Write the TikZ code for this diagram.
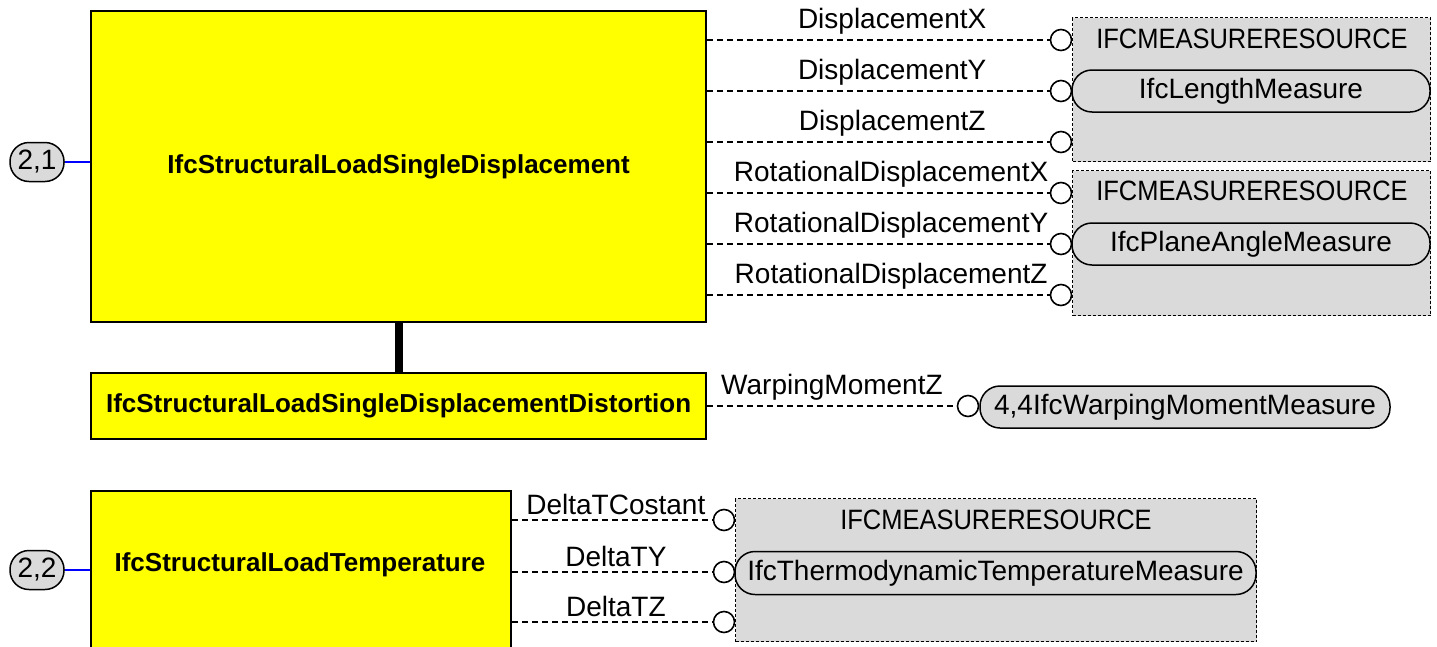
\documentclass[tikz,border=0pt]{standalone}
\usepackage{fontspec}
\setmainfont{Liberation Sans}
\newfontfamily\hdrfont[FakeStretch=0.91]{Liberation Sans}
\usetikzlibrary{positioning}
\definecolor{ybox}{RGB}{255,255,0}
\definecolor{gbox}{RGB}{218,218,218}
\begin{document}
\begin{tikzpicture}[x=1pt,y=-1pt,
  ybox/.style={draw=black, line width=2.2pt, fill=ybox, inner sep=0pt},
  boldtxt/.style={font=\fontsize{26}{30}\selectfont\bfseries},
  lbl/.style={font=\fontsize{28}{32}\selectfont, inner sep=0pt, above=5pt},
  conn/.style={dashed, dash pattern=on 6pt off 4pt, line width=1.4pt},
  port/.style={circle, draw=black, fill=white, line width=1.6pt, minimum size=21pt, inner sep=0pt},
  grp/.style={draw=black, fill=gbox, line width=1.2pt, dash pattern=on 3pt off 2pt, inner sep=0pt, anchor=north west},
  hdr/.style={font=\hdrfont\fontsize{28}{32}\selectfont, inner sep=0pt},
  pill/.style={draw=black, fill=gbox, line width=1.5pt, rounded corners=20pt, inner sep=0pt, font=\fontsize{28}{32}\selectfont},
  refpill/.style={draw=black, fill=gbox, line width=1.5pt, rounded corners=19pt, inner sep=0pt, minimum width=54pt, minimum height=39pt, font=\fontsize{28}{32}\selectfont},
  bluel/.style={draw=blue, line width=2pt},
  thick/.style={line width=8pt}
]
\useasboundingbox (0,0) rectangle (1437,646);

% yellow boxes
\node[ybox, minimum width=615pt, minimum height=311pt, anchor=north west] (b1) at (90,10) {};
\node[boldtxt] at (b1.center) {IfcStructuralLoadSingleDisplacement};
\node[ybox, minimum width=615pt, minimum height=66pt, anchor=north west] (b2) at (90,372) {};
\node[boldtxt] at (b2.center) {IfcStructuralLoadSingleDisplacementDistortion};
\node[ybox, minimum width=420pt, minimum height=180pt, anchor=north west] (b3) at (90,490) {};
\node[boldtxt] (t3) at (300,565) {IfcStructuralLoadTemperature};

\draw[thick] (b1.south) -- (b2.north);

% reference pills
\node[refpill] (r1) at (37,162) {2,1};
\draw[bluel] (r1.east) -- (b1.west |- r1);
\node[refpill] (r2) at (37,570) {2,2};
\draw[bluel] (r2.east) -- (b3.west |- r2);

% groups
\node[grp, minimum width=358pt, minimum height=144pt] (g1) at (1072,17) {};
\node[hdr] at (1252,39) {IFCMEASURERESOURCE};
\node[pill, minimum width=358pt, minimum height=42pt] (m1) at (1251,91) {IfcLengthMeasure};

\node[grp, minimum width=358pt, minimum height=145pt] (g2) at (1072,170) {};
\node[hdr] at (1252,191) {IFCMEASURERESOURCE};
\node[pill, minimum width=358pt, minimum height=42pt] (m2) at (1251,244) {IfcPlaneAngleMeasure};

\node[pill, minimum width=410pt, minimum height=42pt] (m3) at (1185,407) {4,4IfcWarpingMomentMeasure};

\node[grp, minimum width=521pt, minimum height=143pt] (g3) at (735,498) {};
\node[hdr] at (996,520) {IFCMEASURERESOURCE};
\node[pill, minimum width=521pt, minimum height=43pt] (m4) at (995.5,573) {IfcThermodynamicTemperatureMeasure};

% ports
\node[port] (c1) at (1061,40) {};
\node[port] (c2) at (1061,91) {};
\node[port] (c3) at (1061,142) {};
\node[port] (c4) at (1061,193) {};
\node[port] (c5) at (1061,244) {};
\node[port] (c6) at (1061,295) {};
\node[port] (c7) at (968,406) {};
\node[port] (c8) at (724,520) {};
\node[port] (c9) at (724,572) {};
\node[port] (c10) at (724,622) {};

% connectors
\draw[conn] (b1.east |- c1) -- node[lbl, pos=0.54] {DisplacementX} (c1.west);
\draw[conn] (b1.east |- c2) -- node[lbl, pos=0.54] {DisplacementY} (c2.west);
\draw[conn] (b1.east |- c3) -- node[lbl, pos=0.54] {DisplacementZ} (c3.west);
\draw[conn] (b1.east |- c4) -- node[lbl, pos=0.537] {RotationalDisplacementX} (c4.west);
\draw[conn] (b1.east |- c5) -- node[lbl, pos=0.537] {RotationalDisplacementY} (c5.west);
\draw[conn] (b1.east |- c6) -- node[lbl, pos=0.537] {RotationalDisplacementZ} (c6.west);
\draw[conn] (b2.east |- c7) -- node[lbl, pos=0.5] {WarpingMomentZ} (c7.west);
\draw[conn] (b3.east |- c8) -- node[lbl, pos=0.517] {DeltaTCostant} (c8.west);
\draw[conn] (b3.east |- c9) -- node[lbl, pos=0.517] {DeltaTY} (c9.west);
\draw[conn] (b3.east |- c10) -- node[lbl, pos=0.517] {DeltaTZ} (c10.west);
\end{tikzpicture}
\end{document}
